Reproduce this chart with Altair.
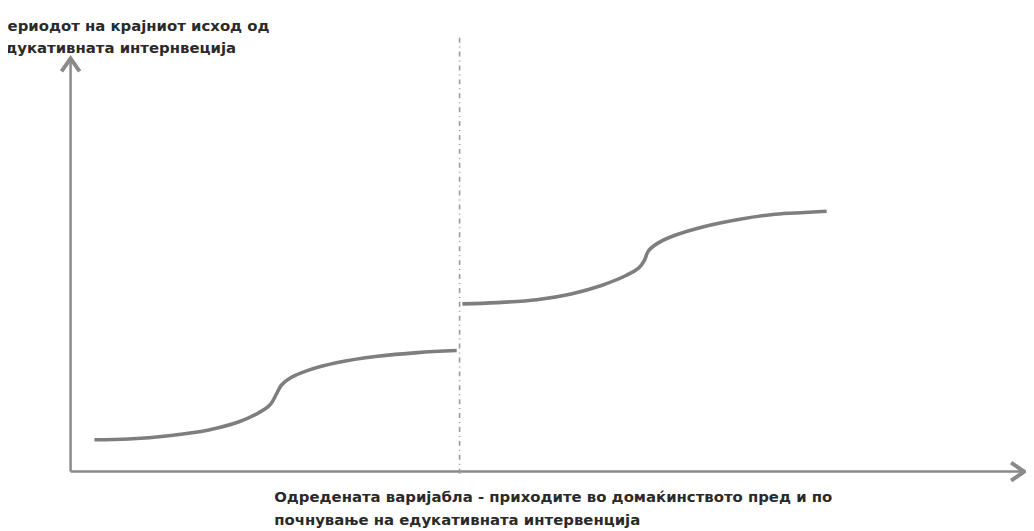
import altair as alt
import pandas as pd

# --- data (abstract units) ---
left_x = [2.5, 6.1, 10.3, 14.5, 17.6, 19.7, 20.9, 21.6, 22.1, 23.0, 24.9, 28.0, 32.2, 36.4, 40.5]
left_y = [7.7, 7.9, 8.7, 10.1, 12.0, 14.2, 16.1, 18.8, 20.9, 22.6, 24.5, 26.4, 27.9, 28.8, 29.3]
right_x = [41.1, 44.7, 48.9, 52.5, 55.6, 58.2, 59.6, 60.2, 60.6, 61.6, 63.4, 66.6, 70.2, 73.9, 77.0, 79.3]
right_y = [40.6, 40.9, 41.6, 43.0, 45.0, 47.4, 49.3, 51.2, 53.4, 55.3, 57.2, 59.4, 61.1, 62.3, 62.7, 63.0]
cutoff = [40.8]
axis_end = [100, 100]  # x-axis end, y-axis end
y_title = ["Периодот на крајниот исход од", "едукативната интернвеција"]
x_title = ["Одредената варијабла - приходите во домаќинството пред и по",
           "почнување на едукативната интервенција"]

GRAY = "#7e7e7e"
AXGRAY = "#8a8a8a"

xs = alt.Scale(domain=[0, 100], nice=False, zero=False)
ys = alt.Scale(domain=[0, 100], nice=False, zero=False)

curves = pd.DataFrame(
    {"x": left_x + right_x, "y": left_y + right_y,
     "seg": ["before"] * len(left_x) + ["after"] * len(right_x)}
)
axes_df = pd.DataFrame({"x": [0, 0], "y": [0, 0], "x2": [axis_end[0], 0], "y2": [0, axis_end[1]]})
cut_df = pd.DataFrame({"x": cutoff, "y": [-0.5], "y2": [105]})
arrow_df = pd.DataFrame({"x": [0, axis_end[0]], "y": [axis_end[1], 0], "ang": [0, 90]})
ytitle_df = pd.DataFrame({"t": y_title, "i": [0, 1]})
xtitle_df = pd.DataFrame({"t": x_title, "i": [0, 1]})

axes = alt.Chart(axes_df).mark_rule(color=AXGRAY, strokeWidth=2.5).encode(
    x=alt.X("x:Q", scale=xs, axis=None), y=alt.Y("y:Q", scale=ys, axis=None),
    x2="x2:Q", y2="y2:Q")

cut = alt.Chart(cut_df).mark_rule(color="#9a9a9a", strokeWidth=1.6, strokeDash=[5, 4, 1, 4]).encode(
    x=alt.X("x:Q", scale=xs, axis=None), y=alt.Y("y:Q", scale=ys, axis=None), y2="y2:Q")

lines = alt.Chart(curves).mark_line(interpolate="catmull-rom", color=GRAY, strokeWidth=3.6).encode(
    x=alt.X("x:Q", scale=xs, axis=None), y=alt.Y("y:Q", scale=ys, axis=None), detail="seg:N")

arrows = alt.Chart(arrow_df).mark_point(
    shape="M-0.7,1L0,0L0.7,1", size=676, filled=False, color=AXGRAY, strokeWidth=4, opacity=1
).encode(x=alt.X("x:Q", scale=xs, axis=None), y=alt.Y("y:Q", scale=ys, axis=None),
         angle=alt.Angle("ang:Q", scale=None))

ytext = alt.Chart(ytitle_df).mark_text(
    align="left", baseline="middle", font="DejaVu Sans", fontWeight="bold", fontSize=15, color="#2a2a2a"
).encode(x=alt.value(-76), y=alt.Y("i:Q", scale=alt.Scale(domain=[0, 1], range=[-33, -10]), axis=None),
         text="t:N")

xtext = alt.Chart(xtitle_df).mark_text(
    align="left", baseline="middle", font="DejaVu Sans", fontWeight="bold", fontSize=15, color="#2a2a2a"
).encode(x=alt.value(205), y=alt.Y("i:Q", scale=alt.Scale(domain=[0, 1], range=[442, 465]), axis=None),
         text="t:N")

chart = alt.layer(axes, cut, lines, arrows, ytext, xtext).resolve_scale(y="independent").properties(
    width=960, height=416,
    padding={"left": 63, "top": 49, "right": 2, "bottom": 57},
    autosize="none", background="white"
).configure_view(stroke=None)

chart.save("out.html", embed_options={"renderer": "svg", "actions": False})
